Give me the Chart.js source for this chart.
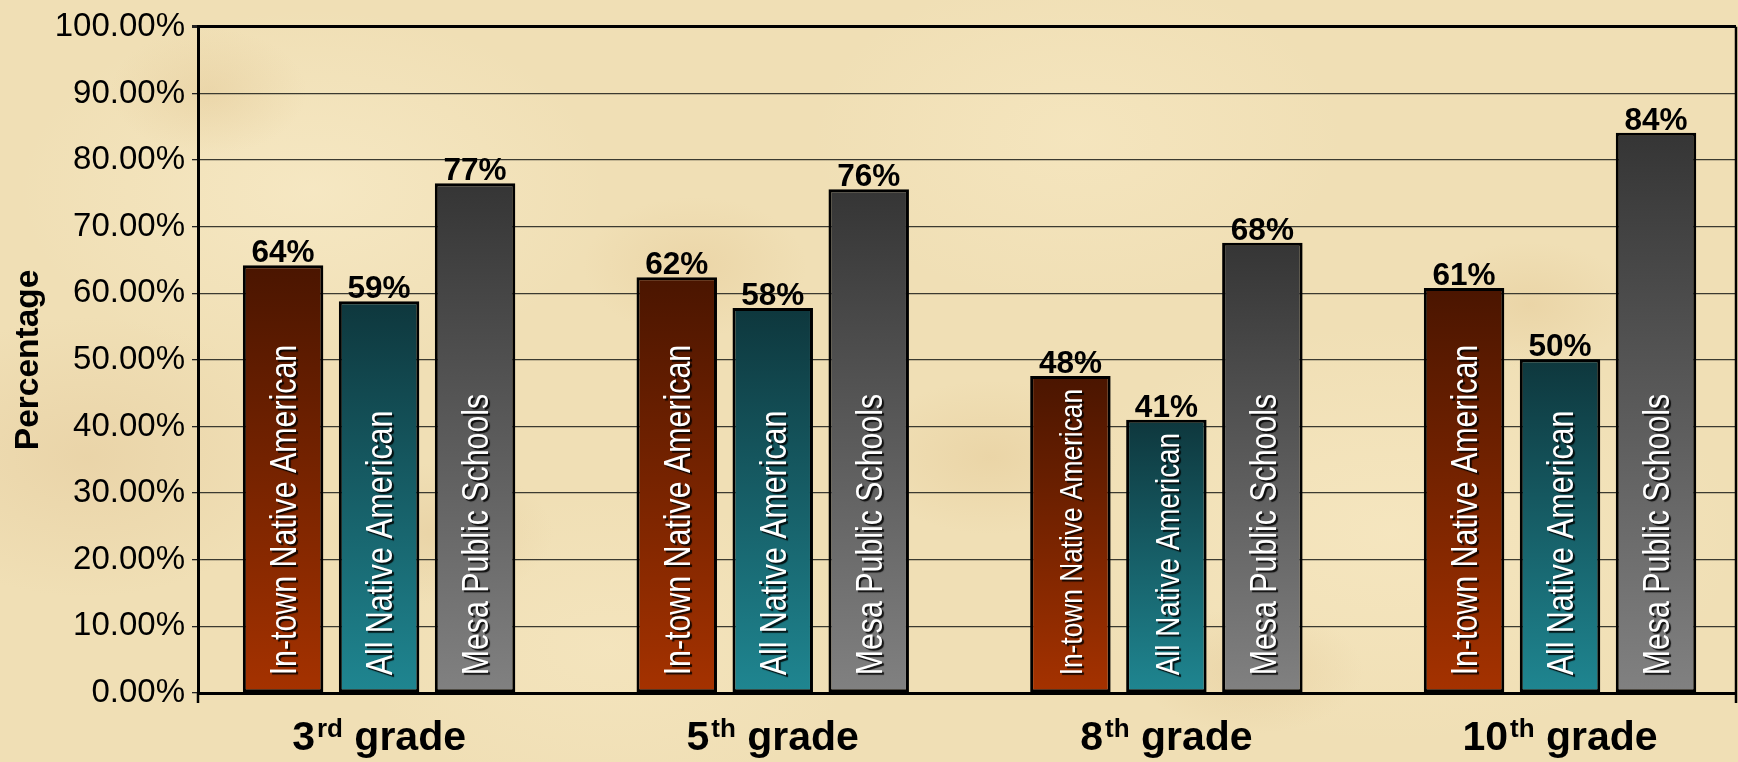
<!DOCTYPE html>
<html>
<head>
<meta charset="utf-8">
<script src="https://cdn.jsdelivr.net/npm/chart.js@4.4.1/dist/chart.umd.min.js"></script>
<style>
html,body{margin:0;padding:0;}
body{
  width:1738px;height:762px;overflow:hidden;
  background-color:#f0dfb5;
  background-image:
    radial-gradient(ellipse 140px 90px at 12% 12%, rgba(226,200,150,0.45), rgba(226,200,150,0) 70%),
    radial-gradient(ellipse 160px 100px at 40% 35%, rgba(228,200,148,0.4), rgba(228,200,148,0) 70%),
    radial-gradient(ellipse 180px 110px at 57% 60%, rgba(226,198,146,0.4), rgba(226,198,146,0) 70%),
    radial-gradient(ellipse 150px 90px at 88% 40%, rgba(226,198,146,0.4), rgba(226,198,146,0) 70%),
    radial-gradient(ellipse 170px 100px at 25% 70%, rgba(224,196,146,0.4), rgba(224,196,146,0) 70%),
    radial-gradient(ellipse 160px 90px at 72% 88%, rgba(224,196,146,0.4), rgba(224,196,146,0) 70%),
    radial-gradient(ellipse 420px 260px at 18% 25%, rgba(250,238,205,0.55), rgba(250,238,205,0) 70%),
    radial-gradient(ellipse 380px 240px at 62% 18%, rgba(250,236,200,0.45), rgba(250,236,200,0) 70%),
    radial-gradient(ellipse 500px 300px at 80% 70%, rgba(250,236,200,0.5), rgba(250,236,200,0) 70%),
    radial-gradient(ellipse 360px 220px at 35% 85%, rgba(248,234,198,0.45), rgba(248,234,198,0) 70%),
    radial-gradient(ellipse 300px 200px at 5% 60%, rgba(222,192,145,0.35), rgba(222,192,145,0) 70%);
}
#wrap{position:relative;width:1738px;height:762px;}
</style>
</head>
<body>
<div id="wrap"><canvas id="c" width="1738" height="762"></canvas></div>
<script>
// ---- data ----
const categories = ['3rd grade', '5th grade', '8th grade', '10th grade'];
const seriesNames = ['In-town Native American', 'All Native American', 'Mesa Public Schools'];
const inTown    = [64.2, 62.4, 47.6, 60.8];
const allNative = [58.8, 57.8, 41.0, 50.1];
const mesa      = [76.5, 75.6, 67.6, 84.1];
const yTickStep = 10;

const FONT = '"Liberation Sans", Arial, Helvetica, sans-serif';

function gradFill(top, bottom) {
  return (c) => {
    const chart = c.chart;
    if (!chart.chartArea || c.type !== 'data') return bottom;
    const ys = chart.scales.y;
    const y0 = ys.getPixelForValue(0);
    const y1 = ys.getPixelForValue(c.parsed.y);
    const g = chart.ctx.createLinearGradient(0, y1, 0, y0);
    g.addColorStop(0, top);
    g.addColorStop(1, bottom);
    return g;
  };
}

const toPoints = arr => arr.map((v, i) => ({ x: i, y: v }));

const seriesColors = [
  ['#4a1500', '#a53200'],
  ['#0e373d', '#1f8691'],
  ['#353535', '#818181']
];

const labelsPlugin = {
  id: 'customLabels',
  afterDatasetsDraw(chart) {
    const ctx = chart.ctx;
    chart.data.datasets.forEach((ds, di) => {
      const meta = chart.getDatasetMeta(di);
      meta.data.forEach((bar, i) => {
        const v = ds.data[i].y;
        // value label
        ctx.save();
        ctx.font = 'bold 31.5px ' + FONT;
        ctx.fillStyle = '#000';
        ctx.textAlign = 'center';
        ctx.textBaseline = 'alphabetic';
        ctx.fillText(Math.round(v) + '%', bar.x, bar.y - 3);
        ctx.restore();

        // rotated series name inside bar
        const name = seriesNames[di];
        const h = bar.base - bar.y;
        const squeeze = 0.82;
        let size = 37;
        ctx.save();
        ctx.font = size + 'px ' + FONT;
        const tw = ctx.measureText(name).width * squeeze;
        const avail = h - 30;
        if (tw > avail) size = size * avail / tw;
        ctx.font = size + 'px ' + FONT;
        ctx.translate(bar.x, bar.base - 17);
        ctx.rotate(-Math.PI / 2);
        ctx.scale(squeeze, 1);
        ctx.fillStyle = '#ffffff';
        ctx.textAlign = 'left';
        ctx.textBaseline = 'alphabetic';
        ctx.shadowColor = 'rgba(0,0,0,0.85)';
        ctx.shadowOffsetX = 2;
        ctx.shadowOffsetY = 2;
        ctx.shadowBlur = 1;
        ctx.fillText(name, 0, size * 0.716 / 2);
        ctx.restore();
      });
    });
  },
  afterDraw(chart) {
    const ctx = chart.ctx;
    const ca = chart.chartArea;
    const xs = chart.scales.x;
    // right border and end ticks
    ctx.save();
    ctx.strokeStyle = '#000';
    ctx.lineWidth = 2.5;
    ctx.beginPath();
    ctx.moveTo(ca.right, ca.top);
    ctx.lineTo(ca.right, ca.bottom + 10);
    ctx.moveTo(ca.left, ca.bottom);
    ctx.lineTo(ca.left, ca.bottom + 10);
    ctx.stroke();
    ctx.restore();

    // category labels with superscript ordinals
    categories.forEach((cat, i) => {
      const m = cat.match(/^(\d+)(st|nd|rd|th)(.*)$/);
      const parts = m ? [m[1], m[2], m[3]] : [cat, '', ''];
      const cx = xs.getPixelForValue(i);
      const base = 750;
      ctx.save();
      ctx.fillStyle = '#000';
      ctx.textBaseline = 'alphabetic';
      ctx.textAlign = 'left';
      const mainF = 'bold 41px ' + FONT;
      const supF = 'bold 26px ' + FONT;
      ctx.font = mainF;
      const w1 = ctx.measureText(parts[0]).width;
      const w3 = ctx.measureText(parts[2]).width;
      ctx.font = supF;
      const w2 = ctx.measureText(parts[1]).width;
      const gap = 2;
      const total = w1 + w2 + w3 + gap;
      let x = cx - total / 2;
      ctx.font = mainF;
      ctx.fillText(parts[0], x, base);
      x += w1 + gap;
      ctx.font = supF;
      ctx.fillText(parts[1], x, base - 13);
      x += w2;
      ctx.font = mainF;
      ctx.fillText(parts[2], x, base);
      ctx.restore();
    });
  }
};

new Chart(document.getElementById('c'), {
  type: 'bar',
  data: {
    datasets: [
      { label: seriesNames[0], data: toPoints(inTown), backgroundColor: gradFill(...seriesColors[0]) },
      { label: seriesNames[1], data: toPoints(allNative), backgroundColor: gradFill(...seriesColors[1]) },
      { label: seriesNames[2], data: toPoints(mesa), backgroundColor: gradFill(...seriesColors[2]) }
    ]
  },
  options: {
    responsive: false,
    animation: false,
    devicePixelRatio: 1,
    layout: { padding: { top: 22, right: 2, left: 0, bottom: 0 } },
    datasets: {
      bar: {
        borderColor: '#000',
        borderWidth: 3,
        borderSkipped: false,
        categoryPercentage: 0.7315,
        barPercentage: 0.8385,
        grouped: true
      }
    },
    plugins: {
      legend: { display: false },
      tooltip: { enabled: false },
      title: { display: false }
    },
    scales: {
      x: {
        type: 'linear',
        offset: false,
        min: -0.46,
        max: 3.447,
        grid: { display: false, offset: false },
        ticks: { display: false },
        border: { display: true, color: '#000', width: 3 },
        afterBuildTicks: s => { s.ticks = categories.map((_, i) => ({ value: i })); },
        afterFit: s => { s.height = 69; }
      },
      y: {
        min: 0,
        max: 100,
        ticks: {
          stepSize: yTickStep,
          callback: v => Number(v).toFixed(2) + '%',
          color: '#000',
          font: { family: FONT, size: 33 },
          padding: 7
        },
        grid: {
          color: c => (c.tick && c.tick.value === 100) ? '#000' : '#3b3a30',
          lineWidth: c => (c.tick && c.tick.value === 100) ? 3 : 1.3,
          tickLength: 6,
          tickColor: '#222'
        },
        border: { display: true, color: '#000', width: 3 },
        title: {
          display: true,
          text: 'Percentage',
          color: '#000',
          font: { family: FONT, size: 33.5, weight: 'bold' },
          padding: { top: 9, bottom: 0 }
        },
        afterFit: s => { s.width = 198; }
      }
    }
  },
  plugins: [labelsPlugin]
});
</script>
</body>
</html>
